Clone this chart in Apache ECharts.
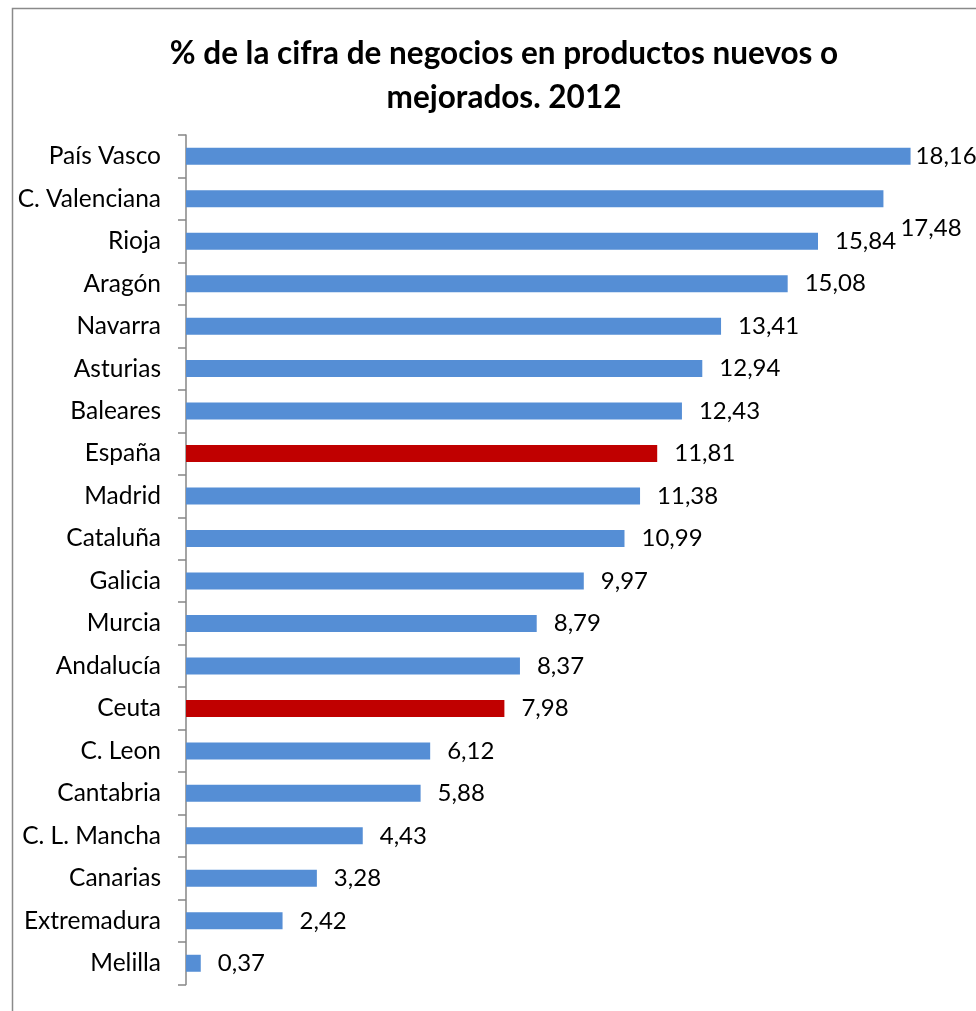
<!DOCTYPE html>
<html>
<head>
<meta charset="utf-8">
<script src="https://cdn.jsdelivr.net/npm/echarts@6/dist/echarts.min.js"></script>
<style>
html,body{margin:0;padding:0;background:#fff;}
#chart{width:976px;height:1011px;}
</style>
</head>
<body>
<div id="chart"></div>
<script>
var titleText = '% de la cifra de negocios en productos nuevos o\nmejorados. 2012';
var categories = ['País Vasco','C. Valenciana','Rioja','Aragón','Navarra','Asturias','Baleares','España','Madrid','Cataluña','Galicia','Murcia','Andalucía','Ceuta','C. Leon','Cantabria','C. L. Mancha','Canarias','Extremadura','Melilla'];
var values = [18.16,17.48,15.84,15.08,13.41,12.94,12.43,11.81,11.38,10.99,9.97,8.79,8.37,7.98,6.12,5.88,4.43,3.28,2.42,0.37];
var highlighted = ['España','Ceuta'];

var FONT = 'Lato';
var data = values.map(function(v, i){
  var item = {value: v, itemStyle: {color: highlighted.indexOf(categories[i]) >= 0 ? '#C00000' : '#558ED5'}};
  if (i === 0) item.label = {distance: 5};
  if (i === 1) item.label = {offset: [0, 30]};
  return item;
});

var chart = echarts.init(document.getElementById('chart'));
chart.setOption({
  animation: false,
  backgroundColor: '#fff',
  title: {
    text: titleText,
    left: 499, top: 27, textAlign: 'center',
    textStyle: {fontFamily: FONT, fontWeight: 'bold', fontSize: 31.5, color: '#000', lineHeight: 44}
  },
  graphic: [{
    type: 'rect', shape: {x: 12.5, y: 8.5, width: 1100, height: 1100},
    style: {fill: 'none', stroke: '#8a8a8a', lineWidth: 1.5}, silent: true
  }],
  grid: {left: 186, top: 135, right: 0, height: 849.5, containLabel: false},
  xAxis: {
    type: 'value', min: 0, max: 19.8, show: false
  },
  yAxis: {
    type: 'category', data: categories, inverse: true,
    axisLine: {show: true, lineStyle: {color: '#868686', width: 1.5}},
    axisTick: {show: true, length: 8, inside: false, lineStyle: {color: '#868686', width: 1.5}},
    axisLabel: {fontFamily: FONT, fontSize: 24.5, color: '#000', margin: 25}
  },
  series: [{
    type: 'bar', data: data, barWidth: 17,
    label: {
      show: true, position: 'right', distance: 17,
      fontFamily: FONT, fontSize: 24, color: '#000',
      formatter: function(p){ return p.value.toFixed(2).replace('.', ','); }
    }
  }]
});
</script>
</body>
</html>
